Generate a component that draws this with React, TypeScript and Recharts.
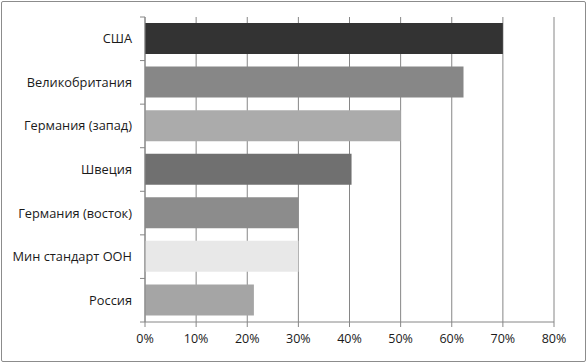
import React from 'react';
import { BarChart, Bar, XAxis, YAxis, CartesianGrid, Cell } from 'recharts';

const categories = ['США', 'Великобритания', 'Германия (запад)', 'Швеция', 'Германия (восток)', 'Мин стандарт ООН', 'Россия'];
const values = [0.70, 0.623, 0.50, 0.404, 0.30, 0.30, 0.213];
const xTicks = [0, 0.1, 0.2, 0.3, 0.4, 0.5, 0.6, 0.7, 0.8];
const colors = ['#333333', '#878787', '#ababab', '#707070', '#8c8c8c', '#e8e8e8', '#a5a5a5'];

const data = categories.map((name, i) => ({ name, value: values[i] }));

const FONT = '"Open Sans", sans-serif';
const GRID = '#868686';

const YTick = (props: any) => {
  const { x, y, payload, index, height, visibleTicksCount } = props;
  const n = visibleTicksCount || categories.length;
  const band = height / n;
  const axisX = x + 8;
  return (
    <g>
      <line x1={axisX - 5} x2={axisX} y1={y - band / 2} y2={y - band / 2} stroke={GRID} />
      {index === n - 1 && (
        <line x1={axisX - 5} x2={axisX} y1={y + band / 2} y2={y + band / 2} stroke={GRID} />
      )}
      <text x={x - 5} y={y} dy={4.5} textAnchor="end" fontFamily={FONT} fontSize={12.8} fill="#1a1a1a">
        {payload.value}
      </text>
    </g>
  );
};

export default function App() {
  return (
    <div style={{ position: 'fixed', left: 0, top: 0, width: 587, height: 363, background: '#fff' }}>
      <div
        style={{
          position: 'absolute',
          left: 1,
          top: 1,
          width: 583,
          height: 359,
          border: '1px solid #8c8c8c',
          borderRadius: 2,
        }}
      />
      <BarChart
        width={587}
        height={363}
        data={data}
        layout="vertical"
        margin={{ top: 17, right: 33, left: 0, bottom: 0 }}
        barSize={31}
      >
        <CartesianGrid horizontal={false} vertical={true} stroke={GRID} strokeWidth={1} />
        <XAxis
          type="number"
          domain={[0, 0.8]}
          ticks={xTicks}
          tickFormatter={(v: number) => `${Math.round(v * 100)}%`}
          height={41}
          axisLine={{ stroke: GRID }}
          tickLine={{ stroke: GRID }}
          tickSize={5}
          tickMargin={7}
          tick={{ fontFamily: FONT, fontSize: 12.5, fill: '#1a1a1a' }}
          interval={0}
        />
        <YAxis
          type="category"
          dataKey="name"
          width={145}
          axisLine={{ stroke: GRID }}
          tickLine={false}
          tick={<YTick />}
          interval={0}
        />
        <Bar dataKey="value" isAnimationActive={false}>
          {data.map((d, i) => (
            <Cell key={d.name} fill={colors[i]} />
          ))}
        </Bar>
      </BarChart>
    </div>
  );
}
